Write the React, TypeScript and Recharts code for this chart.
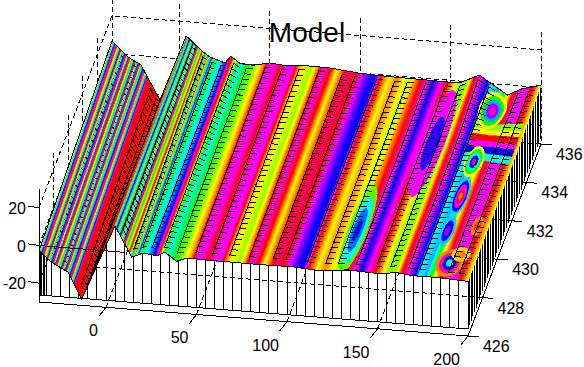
import { ScatterChart, Scatter, XAxis, YAxis } from 'recharts';

const WIDTH = 584;
const HEIGHT = 367;

// axis limits and ticks
const X_MIN = -37;
const X_MAX = 200;
const Y_MIN = 426;
const Y_MAX = 436;
const Z_MIN = -30;
const Z_MAX = 30;
const SKIRT_Z = -26.3;
const xTicks = [0, 50, 100, 150, 200];
const yTicks = [426, 428, 430, 432, 434, 436];
const zTicks = [-20, 0, 20];

// height of the surface along its front and back edge
const frontX = [-37, -30, -20.8, -13.4, 5, 14.2, 20.6, 28, 32.6, 39, 44.6, 59.3, 74, 88.8, 102.8, 115.7, 134, 152.5, 160, 169, 182, 200];
const frontZ = [-2.8, -8.4, -13, -26.6, 13.7, -2.3, 0.4, -0.5, 1.7, -2.6, -0.4, -0.7, -0.8, -0.8, -0.6, -1.4, 0, -0.7, 0.8, -0.3, -0.2, -1];
const backX = [-37, -28, -21, -10.5, 4, 13.4, 17, 25.4, 28.7, 34, 41, 50, 60, 72, 83.5, 99, 113, 148, 155, 166, 181.5, 189, 200];
const backZ = [6.6, -1.2, -4.9, -22.7, 12.4, 4.6, 2.3, -0.3, 3.6, 0, -0.3, 1.6, 0.8, 1.7, 1.5, 0, -0.5, -1, -1, 4, -5.4, -1.7, 1.3];

// colour of the stripes read across the surface (hue in degrees, unwrapped)
const hueX = [-37, -35.5, -33, -31.5, -29, -27.5, -25, -23, -21.5, -19, -17, -5, 4, 5, 6, 7, 8, 9, 10, 11.5, 13, 14.5, 16, 18, 20, 22, 27, 31, 34, 38, 42, 44.7, 47.4, 50, 53.8, 56.5, 60, 63.5, 66, 69, 73.7, 77, 80.6, 84.4, 87.6, 90, 94, 98.3, 101, 106.4, 109, 112, 116.5, 120.8, 127.8, 130.5, 134, 138, 141, 145, 149, 153, 156.5, 160, 163.5, 167, 171, 173, 177, 181.6, 185, 189, 192.5, 196.6, 200];
const hueDeg = [0, 240, 480, 800, 1050, 1400, 1620, 1950, 2180, 2520, 2880, 2885, 2880, 3660, 3870, 3660, 3870, 3660, 3870, 4100, 3950, 4180, 3960, 4200, 4080, 4130, 4200, 4380, 4500, 4440, 4410, 4380, 4350, 4260, 4270, 4315, 4260, 4260, 4345, 4380, 4405, 4350, 4260, 4320, 4380, 4350, 4290, 4320, 4260, 4205, 4200, 4320, 4380, 4350, 4400, 4360, 4320, 4260, 4200, 4260, 4320, 4380, 4410, 4410, 4320, 4260, 4200, 4140, 4160, 4030, 3960, 3900, 3900, 3970, 4020];

// cross bands near the right edge: [y from, y to, hue]
const bandFrom = [433.75, 433.45, 433.1, 432.8, 432.45, 432.1];
const bandTo = [434.1, 433.75, 433.45, 433.1, 432.8, 432.45];
const bandHue = [90, 60, 0, 300, 240, 170];

// ring patches on the surface
const blobX = [153, 130.6, 178, 179, 179, 179, 186.6, 194, 191];
const blobY = [432.8, 428.1, 434.8, 432, 430.2, 428.4, 426.8, 428.8, 427.3];
const blobRx = [7, 5.5, 7, 5, 4, 3.5, 7, 3, 5];
const blobRy = [2.8, 2.3, 1, 0.8, 1, 0.8, 0.7, 0.5, 0.35];
const blobHues = [
  [300, 250],
  [100, 180, 215, 235],
  [60, 120, 200, 280, 310],
  [60, 120, 170, 240, 330],
  [190, 240, 300, 350, 30],
  [190, 240, 275],
  [30, 320, 240, 170],
  [30, 10],
  [50, 30],
];

// black mesh lines that show through the colours
const railX = [-31, -24, -15, -12, -9, 8, 14, 19, 24, 31, 38, 48.5, 57.6, 67, 78, 91, 98, 110, 120, 127, 137, 148, 156, 166, 172, 188, 194];
const skirtX = [-30, -25, -20, -15, -10, -5, 0, 5, 10, 15, 20, 25, 30, 35, 40, 45, 50, 55, 60, 65, 70, 75, 80, 85, 90, 95, 100, 105, 110, 115, 120, 125, 130, 135, 140, 145, 150, 155, 160, 165, 170, 175, 180, 185, 190, 195, 200];
const skirtLeftX = [-37, -36.2, -35.4, -34.6, -33.8, -33];

type P3 = [number, number, number];
type Poly = { pts: P3[]; fill?: string; dash?: boolean };

const projX = (x: number, y: number) => 39 + (x - X_MIN) * 1.81 + (y - Y_MIN) * 7.3;
const projY = (x: number, y: number, z: number) =>
  302 + (x - X_MIN) * 0.1435 - (y - Y_MIN) * 19.2 - (z - Z_MIN) * 1.883;

const lerpAt = (xs: number[], ys: number[], x: number) => {
  if (x <= xs[0]) return ys[0];
  for (let i = 1; i < xs.length; i++) {
    if (x <= xs[i]) return ys[i - 1] + ((ys[i] - ys[i - 1]) * (x - xs[i - 1])) / (xs[i] - xs[i - 1]);
  }
  return ys[ys.length - 1];
};

const surfaceZ = (x: number, y: number) => {
  const f = lerpAt(frontX, frontZ, x);
  const b = lerpAt(backX, backZ, x);
  const t = x > 150 ? Math.max(0, (y - 433) / 3) : (y - Y_MIN) / (Y_MAX - Y_MIN);
  return f + (b - f) * t;
};

const hsv = (deg: number) => {
  const h = (((deg % 360) + 360) % 360) / 60;
  const c = (n: number) => {
    const k = (n + h) % 6;
    return Math.round(255 * (1 - Math.max(0, Math.min(k, 4 - k, 1))));
  };
  return `rgb(${c(5)},${c(3)},${c(1)})`;
};

const onSurface = (x: number, y: number): P3 => [x, y, surfaceZ(x, y)];

// surface polygons, far columns first
const surfacePolys: Poly[] = [];
const STEP = 0.25;
for (let x = X_MIN; x < X_MAX; x += STEP) {
  const x1 = x + STEP;
  surfacePolys.push({
    pts: [onSurface(x, 426), onSurface(x, 433), onSurface(x, 436), onSurface(x1, 436), onSurface(x1, 433), onSurface(x1, 426)],
    fill: hsv(lerpAt(hueX, hueDeg, x + STEP / 2)),
  });
}
const patchPolys: Poly[] = [];
bandHue.forEach((h, i) => {
  const row: P3[] = [];
  for (let x = 172; x <= 198; x += 2) row.push(onSurface(x, bandFrom[i]));
  for (let x = 198; x >= 172; x -= 2) row.push(onSurface(x, bandTo[i]));
  patchPolys.push({ pts: row, fill: hsv(h) });
});
blobHues.forEach((hues, b) => {
  hues.forEach((h, r) => {
    const k = 1 - r / hues.length;
    const ring: P3[] = [];
    for (let a = 0; a < 24; a++) {
      const t = (a / 24) * Math.PI * 2;
      const x = Math.min(X_MAX, blobX[b] + blobRx[b] * k * Math.cos(t));
      const y = Math.min(Y_MAX, Math.max(Y_MIN, blobY[b] + blobRy[b] * k * Math.sin(t)));
      ring.push(onSurface(x, y));
    }
    patchPolys.push({ pts: ring, fill: hsv(h) });
  });
});

// mesh
const meshPolys: Poly[] = [];
railX.forEach((x) => {
  const plateau = x < -20;
  if (!plateau) meshPolys.push({ pts: [onSurface(x, 426.3), onSurface(x, 433), onSurface(x, 435.8)] });
  const len = x < 25 ? (plateau ? 1 : 2) : 3.6;
  for (let y = 426.35; y < 435.8; y += 0.27) {
    meshPolys.push({ pts: [onSurface(x - 0.3, y), onSurface(x + len, y)] });
  }
});

// walls and floor grid
const gridPolys: Poly[] = [];
zTicks.forEach((z) => {
  gridPolys.push({ pts: [[X_MIN, Y_MIN, z], [X_MIN, Y_MAX, z], [X_MAX, Y_MAX, z]], dash: true });
});
xTicks.forEach((x) => {
  gridPolys.push({ pts: [[x, Y_MIN, Z_MIN], [x, Y_MAX, Z_MIN], [x, Y_MAX, Z_MAX]], dash: true });
});
yTicks.slice(1).forEach((y) => {
  gridPolys.push({ pts: [[X_MAX, y, Z_MIN], [X_MIN, y, Z_MIN], [X_MIN, y, Z_MAX]], dash: true });
});

// curtain hanging from the surface edges
const skirtPolys: Poly[] = [];
skirtX.concat(skirtLeftX).forEach((x) => {
  skirtPolys.push({ pts: [onSurface(x, 426), [x, 426, SKIRT_Z]] });
});
for (let y = 426; y <= 436; y += 0.22) {
  skirtPolys.push({ pts: [onSurface(200, y), [200, y, SKIRT_Z]] });
}
skirtPolys.push({ pts: [[X_MIN, 426, SKIRT_Z], [X_MAX, 426, SKIRT_Z]] });

// edges drawn on top of the colours
const edgePolys: Poly[] = [];
const edge = (xs: number[], y: number) => xs.map((x) => onSurface(x, y));
edgePolys.push({ pts: edge(frontX, 426) });
edgePolys.push({ pts: edge(backX, 436) });
edgePolys.push({ pts: [onSurface(X_MIN, 426), onSurface(X_MIN, 436)] });
edgePolys.push({ pts: [[X_MIN, 426, 0], [10, 426, 0]] });

// axes
const axisPolys: Poly[] = [];
axisPolys.push({ pts: [[X_MIN, Y_MIN, Z_MAX], [X_MIN, Y_MIN, Z_MIN], [X_MAX, Y_MIN, Z_MIN], [X_MAX, Y_MAX, Z_MIN]] });
xTicks.forEach((x) => axisPolys.push({ pts: [[x, Y_MIN, Z_MIN], [x - 2, Y_MIN - 0.5, Z_MIN]] }));
yTicks.forEach((y) => axisPolys.push({ pts: [[X_MAX, y, Z_MIN], [X_MAX + 5.8, y, Z_MIN]] }));
zTicks.forEach((z) => axisPolys.push({ pts: [[X_MIN, Y_MIN, z], [X_MIN - 6, Y_MIN, z + 0.45]] }));

const toVerts = (polys: Poly[]) =>
  polys.flatMap((p) => p.pts.map(([x, y, z]) => ({ px: projX(x, y), py: projY(x, y, z) })));

const noDot = () => null;

const polyLayer = (polys: Poly[], key: string, width = 1) => {
  const draw = (props: { points?: { x: number; y: number }[] }) => {
    const pts = props.points ?? [];
    let at = 0;
    return (
      <g key={key} shapeRendering="crispEdges">
        {polys.map((p, i) => {
          const seg = pts.slice(at, at + p.pts.length);
          at += p.pts.length;
          const d = seg.map((q, j) => `${j ? 'L' : 'M'}${q.x.toFixed(1)} ${q.y.toFixed(1)}`).join('');
          return (
            <path
              key={i}
              d={p.fill ? `${d}Z` : d}
              fill={p.fill ?? 'none'}
              stroke={p.fill ?? '#000'}
              strokeWidth={width}
              strokeDasharray={p.dash ? '5 3' : undefined}
            />
          );
        })}
      </g>
    );
  };
  return (
    <Scatter key={key} data={toVerts(polys)} dataKey="py" line={draw as never} shape={noDot as never} isAnimationActive={false} />
  );
};

type LabelPt = { px: number; py: number; text: string; anchor: string; size: number };

const labels: LabelPt[] = [
  ...xTicks.map((x) => ({
    px: projX(x, Y_MIN) - 8,
    py: projY(x, Y_MIN, Z_MIN) + 29,
    text: String(x),
    anchor: 'end',
    size: 16,
  })),
  ...yTicks.map((y) => ({
    px: projX(X_MAX, y) + 15,
    py: projY(X_MAX, y, Z_MIN) + 16,
    text: String(y),
    anchor: 'start',
    size: 16,
  })),
  ...zTicks.map((z) => ({
    px: 26,
    py: projY(X_MIN, Y_MIN, z) + 6,
    text: String(z),
    anchor: 'end',
    size: 16,
  })),
  { px: 307, py: 42, text: 'Model', anchor: 'middle', size: 28 },
];

const LabelShape = (props: { cx?: number; cy?: number; payload?: LabelPt }) => {
  const l = props.payload as LabelPt;
  return (
    <text x={props.cx} y={props.cy} textAnchor={l.anchor} fontSize={l.size} fontFamily="'Liberation Sans', Arial, sans-serif" fill="#000">
      {l.text}
    </text>
  );
};

export default function App() {
  return (
    <div style={{ position: 'absolute', left: 0, top: 0, width: WIDTH, height: HEIGHT, background: '#fff' }}>
      <ScatterChart width={WIDTH} height={HEIGHT} margin={{ top: 0, right: 0, bottom: 0, left: 0 }}>
        <XAxis type="number" dataKey="px" domain={[0, WIDTH]} allowDataOverflow hide />
        <YAxis type="number" dataKey="py" domain={[0, HEIGHT]} allowDataOverflow reversed hide />
        {polyLayer(gridPolys, 'grid')}
        {polyLayer(skirtPolys, 'skirt')}
        {polyLayer(surfacePolys, 'surface', 0.6)}
        {polyLayer(patchPolys, 'patches', 0.6)}
        {polyLayer(meshPolys, 'mesh')}
        {polyLayer(edgePolys, 'edges')}
        {polyLayer(axisPolys, 'axes')}
        <Scatter data={labels} dataKey="py" shape={LabelShape as never} isAnimationActive={false} />
      </ScatterChart>
    </div>
  );
}
